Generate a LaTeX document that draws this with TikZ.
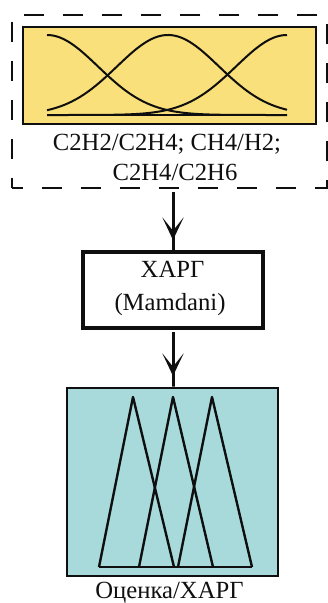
\documentclass[tikz,border=0pt]{standalone}
\usepackage{fontspec}
\setmainfont{Liberation Serif}
\usetikzlibrary{arrows.meta}
\newdimen\pxu \pxu=0.75pt
\definecolor{inyellow}{RGB}{249,224,122}
\definecolor{outteal}{RGB}{168,218,220}
\definecolor{ink}{RGB}{15,15,15}
\begin{document}
\begin{tikzpicture}[x=0.75pt,y=-0.75pt,
  box/.style={draw=ink, rectangle, inner sep=0pt, outer sep=0pt},
  txt/.style={font=\fontsize{18.5}{22}\selectfont, text=ink, inner sep=0pt, anchor=base},
  flow/.style={draw=ink, line width=2.25pt, shorten <=4\pxu,
    -{Stealth[length=17pt,width=16pt,inset=10pt]Rectangle[length=9pt,width=2.25pt]}},
  curve/.style={draw=ink, line width=1.5pt, line join=round},
]
\useasboundingbox (0,0) rectangle (328,603);

% input block: dashed frame, membership functions, ratio labels
\node[box, line width=1.5pt, dash pattern=on 15pt off 14.25pt, dash phase=7pt,
      minimum width=315\pxu, minimum height=173\pxu] (inputs) at (169.5,101.5) {};
\node[box, fill=inyellow, line width=1.5pt,
      minimum width=293\pxu, minimum height=97\pxu] (infuzzy) at (169.5,75.5) {};
\foreach \c in {47,168,287}
  \draw[curve] plot[domain=47:287, samples=80, smooth]
    (\x, {115-80*exp(-0.5*((\x-\c)/51)^2)});
\draw[curve] (47,115) -- (287,115);
\node[txt] (ratios1) at (167,150) {C2H2/C2H4; CH4/H2;};
\node[txt] (ratios2) at (175,180) {C2H4/C2H6};

% inference block
\node[box, line width=3pt, minimum width=180\pxu, minimum height=76\pxu] (mamdani) at (173,290) {};
\node[txt] (mname) at (172.5,277) {ХАРГ};
\node[txt] (mtype) at (170,310) {(Mamdani)};

% output block: triangular membership functions
\node[box, fill=outteal, line width=1.5pt,
      minimum width=211\pxu, minimum height=188\pxu] (outfuzzy) at (172.5,482) {};
\draw[curve, line width=1.8pt] (99,567) -- (133,397) -- (174,567);
\draw[curve, line width=1.8pt] (139,567) -- (173,397) -- (213,567);
\draw[curve, line width=1.8pt] (178,567) -- (212,397) -- (252,567);
\draw[curve, line width=1.8pt] (99,567) -- (252,567);
\node[txt] (outname) at (169.5,598) {Оценка/ХАРГ};

% connectors
\draw[flow] (mamdani.north |- inputs.south) -- (mamdani.north);
\draw[flow] (mamdani.south) -- (outfuzzy.north -| mamdani.south);
\end{tikzpicture}
\end{document}
